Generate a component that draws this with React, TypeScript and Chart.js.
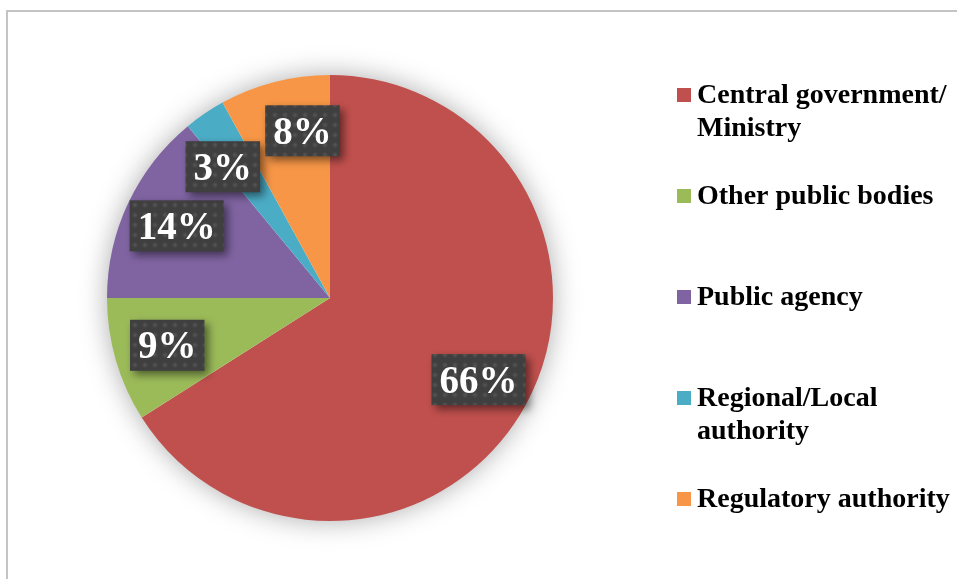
import React, { useEffect, useRef } from "react";
import { Chart, registerables } from "chart.js";

Chart.register(...registerables);

const categories = [
  "Central government/ Ministry",
  "Other public bodies",
  "Public agency",
  "Regional/Local authority",
  "Regulatory authority",
];
const shares = [66, 9, 14, 3, 8];
const colors = ["#C0504D", "#9BBB59", "#8064A2", "#4BACC6", "#F79646"];

function makePattern(ctx: CanvasRenderingContext2D) {
  const c = document.createElement("canvas");
  c.width = 10;
  c.height = 10;
  const p = c.getContext("2d")!;
  p.fillStyle = "#3f3f3f";
  p.fillRect(0, 0, 10, 10);
  const g = p.createRadialGradient(5, 5, 0, 5, 5, 3.2);
  g.addColorStop(0, "rgba(95,95,95,0.75)");
  g.addColorStop(1, "rgba(95,95,95,0)");
  p.fillStyle = g;
  p.fillRect(0, 0, 10, 10);
  return ctx.createPattern(c, "repeat");
}

const shadowPlugin = {
  id: "pieShadow",
  beforeDatasetsDraw(chart: any) {
    const meta = chart.getDatasetMeta(0);
    const a = meta.data[0];
    if (!a) return;
    const { x, y, outerRadius } = a.getProps(["x", "y", "outerRadius"], true);
    const ctx = chart.ctx;
    ctx.save();
    ctx.shadowColor = "rgba(0,0,0,0.35)";
    ctx.shadowBlur = 28;
    ctx.fillStyle = "#ffffff";
    ctx.beginPath();
    ctx.arc(x, y, outerRadius - 1, 0, Math.PI * 2);
    ctx.fill();
    ctx.restore();
  },
};

const labelPlugin = {
  id: "boxLabels",
  afterDatasetsDraw(chart: any) {
    const ctx = chart.ctx;
    const meta = chart.getDatasetMeta(0);
    const data = chart.data.datasets[0].data as number[];
    const total = data.reduce((s, v) => s + v, 0);
    const pattern = makePattern(ctx);
    ctx.save();
    ctx.font = 'bold 39px "Liberation Serif"';
    const h = 51;
    const items = meta.data.map((arc: any, i: number) => {
      const p = arc.getProps(
        ["x", "y", "startAngle", "endAngle", "outerRadius"],
        true
      );
      const text = Math.round((data[i] / total) * 100) + "%";
      const w = ctx.measureText(text).width + 16;
      return {
        x: p.x,
        y: p.y,
        r: p.outerRadius * 0.76,
        ang: (p.startAngle + p.endAngle) / 2,
        text,
        w,
      };
    });
    const pos = (it: any) => ({
      cx: it.x + Math.cos(it.ang) * it.r,
      cy: it.y + Math.sin(it.ang) * it.r,
    });
    for (let iter = 0; iter < 300; iter++) {
      let moved = false;
      for (let i = 0; i < items.length; i++) {
        for (let j = i + 1; j < items.length; j++) {
          const a = pos(items[i]);
          const b = pos(items[j]);
          const ox = (items[i].w + items[j].w) / 2 + 4 - Math.abs(a.cx - b.cx);
          const oy = h + 4 - Math.abs(a.cy - b.cy);
          if (ox > 0 && oy > 0) {
            const step = 0.004;
            if (items[i].ang < items[j].ang) {
              items[i].ang -= step;
              items[j].ang += step;
            } else {
              items[i].ang += step;
              items[j].ang -= step;
            }
            moved = true;
          }
        }
      }
      if (!moved) break;
    }
    items.forEach((it: any) => {
      const { cx, cy } = pos(it);
      ctx.save();
      ctx.shadowColor = "rgba(0,0,0,0.5)";
      ctx.shadowBlur = 8;
      ctx.shadowOffsetX = 4;
      ctx.shadowOffsetY = 4;
      ctx.fillStyle = pattern || "#3f3f3f";
      ctx.fillRect(cx - it.w / 2, cy - h / 2, it.w, h);
      ctx.restore();
      ctx.fillStyle = "#ffffff";
      ctx.textAlign = "center";
      ctx.textBaseline = "alphabetic";
      ctx.fillText(it.text, cx, cy + 13);
    });
    ctx.restore();
  },
};

const legendPlugin = {
  id: "sideLegend",
  afterDraw(chart: any) {
    const ctx = chart.ctx;
    const labels = chart.data.labels as string[];
    const bg = chart.data.datasets[0].backgroundColor as string[];
    const left = 697;
    const maxW = 258;
    ctx.save();
    ctx.font = 'bold 28px "Liberation Serif"';
    ctx.textAlign = "left";
    ctx.textBaseline = "alphabetic";
    labels.forEach((lab, i) => {
      const base = 103 + 101 * i;
      ctx.fillStyle = bg[i];
      ctx.fillRect(677, base - 15, 14, 14);
      const words = lab.split(" ");
      const lines: string[] = [];
      let cur = "";
      words.forEach((w) => {
        const t = cur ? cur + " " + w : w;
        if (ctx.measureText(t).width > maxW && cur) {
          lines.push(cur);
          cur = w;
        } else cur = t;
      });
      if (cur) lines.push(cur);
      ctx.fillStyle = "#000000";
      lines.forEach((ln, j) => ctx.fillText(ln, left, base + j * 33));
    });
    ctx.restore();
  },
};

export default function App() {
  const ref = useRef<HTMLCanvasElement | null>(null);
  useEffect(() => {
    if (!ref.current) return;
    const chart = new Chart(ref.current, {
      type: "pie",
      data: {
        labels: categories,
        datasets: [
          {
            data: shares,
            backgroundColor: colors,
            borderWidth: 0,
          },
        ],
      },
      options: {
        responsive: false,
        animation: false,
        devicePixelRatio: 1,
        layout: { padding: { left: 107, top: 75, right: 404, bottom: 58 } },
        plugins: {
          legend: { display: false },
          tooltip: { enabled: false },
        },
      },
      plugins: [shadowPlugin, labelPlugin, legendPlugin],
    });
    return () => chart.destroy();
  }, []);
  return (
    <div
      style={{
        position: "fixed",
        left: 0,
        top: 0,
        width: 957,
        height: 579,
        overflow: "hidden",
        background: "#ffffff",
      }}
    >
      <div
        style={{
          position: "absolute",
          left: 6,
          top: 10,
          width: 1100,
          height: 1000,
          border: "2px solid #c4c4c4",
        }}
      />
      <canvas
        ref={ref}
        width={957}
        height={579}
        style={{ position: "absolute", left: 0, top: 0, width: 957, height: 579 }}
      />
    </div>
  );
}
